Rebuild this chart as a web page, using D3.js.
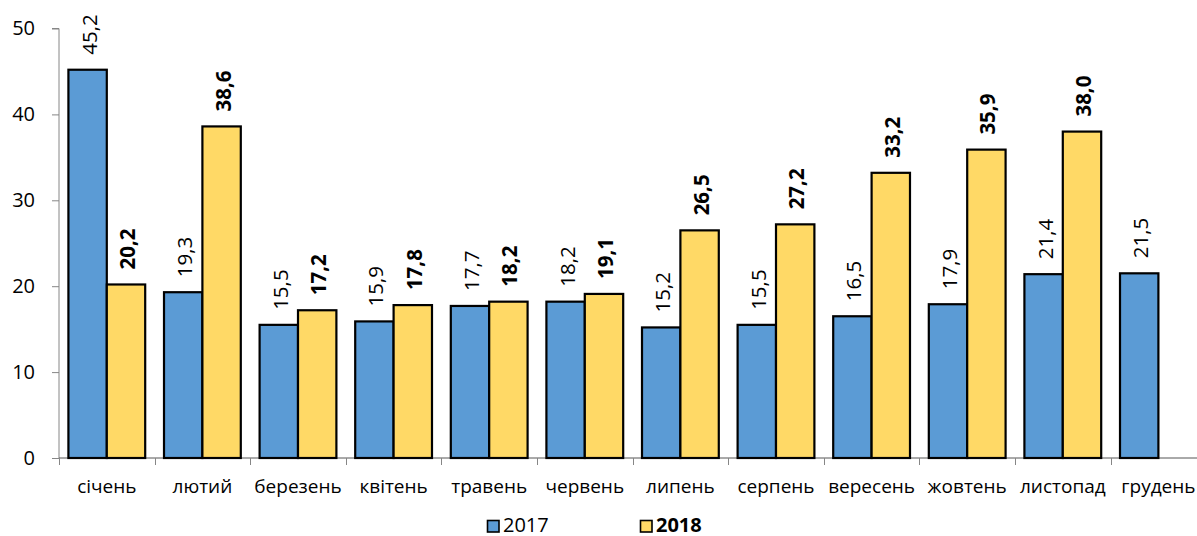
<!DOCTYPE html>
<html>
<head>
<meta charset="utf-8">
<script src="https://cdn.jsdelivr.net/npm/d3@7"></script>
<style>
  body { margin: 0; background: #fff; }
  svg { display: block; font-family: "Open Sans", sans-serif; }
</style>
</head>
<body>
<svg id="chart"></svg>
<script>
// data
const months = ["січень", "лютий", "березень", "квітень", "травень", "червень",
  "липень", "серпень", "вересень", "жовтень", "листопад", "грудень"];
const series = ["2017", "2018"];
const values2017 = [45.2, 19.3, 15.5, 15.9, 17.7, 18.2, 15.2, 15.5, 16.5, 17.9, 21.4, 21.5];
const values2018 = [20.2, 38.6, 17.2, 17.8, 18.2, 19.1, 26.5, 27.2, 33.2, 35.9, 38.0, null];
const yTicks = [0, 10, 20, 30, 40, 50];

const colors = { "2017": "#5B9BD5", "2018": "#FFD966" };

const W = 1197, H = 536;
const plotLeft = 59, plotBottom = 458, plotTop = 28.5;
const step = 95.6;

const svg = d3.select("#chart").attr("width", W).attr("height", H);

// scales
const x = d3.scaleBand().domain(months).range([plotLeft, plotLeft + step * months.length]).padding(0);
const x1 = d3.scaleBand().domain(series).range([0, x.bandwidth()]).paddingInner(0).paddingOuter(0.245);
const y = d3.scaleLinear().domain([0, 50]).range([plotBottom, plotTop]);

const rows = months.map((m, i) => ({ month: m, "2017": values2017[i], "2018": values2018[i] }));

// y axis
const yAxis = svg.append("g")
  .attr("transform", `translate(${plotLeft},0)`)
  .call(d3.axisLeft(y).tickValues(yTicks).tickSize(7).tickPadding(17).tickFormat(d3.format("d")));
yAxis.select(".domain").attr("stroke", "#868686").attr("d", `M-7,${y(50)}H0V${y(0)}`);
yAxis.selectAll(".tick line").attr("stroke", "#868686");
yAxis.selectAll(".tick text")
  .attr("fill", "#000")
  .style("font-size", "20px")
  .style("font-family", "'Open Sans', sans-serif");

// x axis line + ticks at band edges
svg.append("line")
  .attr("x1", plotLeft).attr("x2", W)
  .attr("y1", plotBottom).attr("y2", plotBottom)
  .attr("stroke", "#555").attr("stroke-width", 1);
svg.append("g").selectAll("line")
  .data(months)
  .join("line")
  .attr("x1", d => Math.round(x(d)) + 0.5)
  .attr("x2", d => Math.round(x(d)) + 0.5)
  .attr("y1", plotBottom)
  .attr("y2", plotBottom + 7)
  .attr("stroke", "#868686");

svg.append("g").selectAll("text")
  .data(months)
  .join("text")
  .attr("x", d => x(d) + x.bandwidth() / 2)
  .attr("y", 493)
  .attr("text-anchor", "middle")
  .style("font-size", "19px")
  .text(d => d);

// bars
const groups = svg.append("g").selectAll("g")
  .data(rows)
  .join("g")
  .attr("transform", d => `translate(${x(d.month)},0)`);

const cells = groups.selectAll("g")
  .data(d => series.map(s => ({ key: s, value: d[s] })).filter(e => e.value != null))
  .join("g");

cells.append("rect")
  .attr("x", d => x1(d.key))
  .attr("y", d => y(d.value))
  .attr("width", x1.bandwidth())
  .attr("height", d => y(0) - y(d.value))
  .attr("fill", d => colors[d.key])
  .attr("stroke", "#000")
  .attr("stroke-width", 2.2);

// value labels, rotated
cells.append("text")
  .attr("transform", d => {
    const cx = x1(d.key) + x1.bandwidth() / 2 + 9;
    return `translate(${cx},${y(d.value) - 15}) rotate(-90)`;
  })
  .attr("text-anchor", "start")
  .style("font-size", "20.5px")
  .style("font-weight", d => d.key === "2018" ? "bold" : "normal")
  .text(d => d.value.toFixed(1).replace(".", ","));

// legend
const legend = svg.append("g");
const legendItems = [
  { key: "2017", sx: 487, tx: 503 },
  { key: "2018", sx: 640, tx: 656 }
];
legendItems.forEach(it => {
  legend.append("rect")
    .attr("x", it.sx + 0.5).attr("y", 520.5)
    .attr("width", 11.5).attr("height", 11.5)
    .attr("fill", colors[it.key])
    .attr("stroke", "#000").attr("stroke-width", 1.6);
  legend.append("text")
    .attr("x", it.tx).attr("y", 532.3)
    .style("font-size", "20px")
    .style("font-weight", it.key === "2018" ? "bold" : "normal")
    .text(it.key);
});
</script>
</body>
</html>
